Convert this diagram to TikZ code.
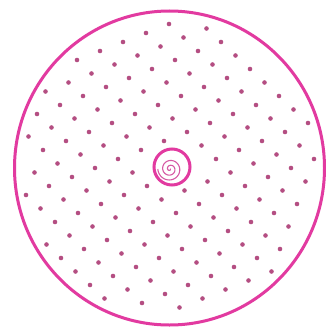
\documentclass[tikz,border=0pt]{standalone}
\definecolor{rim}{RGB}{226,58,160}
\definecolor{dotc}{RGB}{180,78,130}
\definecolor{spir}{RGB}{215,90,165}
\begin{document}
\begin{tikzpicture}[x=1pt,y=-1pt]
\useasboundingbox (0,0) rectangle (326,329);
\fill[white] (0,0) rectangle (326,329);
% dot lattice
\foreach \i in {-16,...,16}{
  \foreach \j in {-18,...,18}{
    \pgfmathsetmacro\xx{77+23*\i+14.5*\j}
    \pgfmathsetmacro\yy{60-9*\i+13.5*\j}
    \pgfmathsetmacro\dd{veclen(\xx-169.5,\yy-168)}
    \pgfmathsetmacro\dc{veclen(\xx-172,\yy-167)}
    \ifdim\dd pt<147pt
      \ifdim\dc pt>23pt
        \fill[dotc] (\xx,\yy) circle[radius=2.3pt];
      \fi
    \fi
  }
}
% outer rim
\draw[rim, line width=3pt] (169.5,168) ellipse (155 and 157);
% central ring
\draw[rim, line width=3pt] (172,167) circle (18);
% spiral
\draw[spir, line width=1.1pt, variable=\t, domain=0:900, samples=160, smooth]
  plot ({170+0.0135*\t*cos(\t)},{169+0.0135*\t*sin(\t)});
\end{tikzpicture}
\end{document}
